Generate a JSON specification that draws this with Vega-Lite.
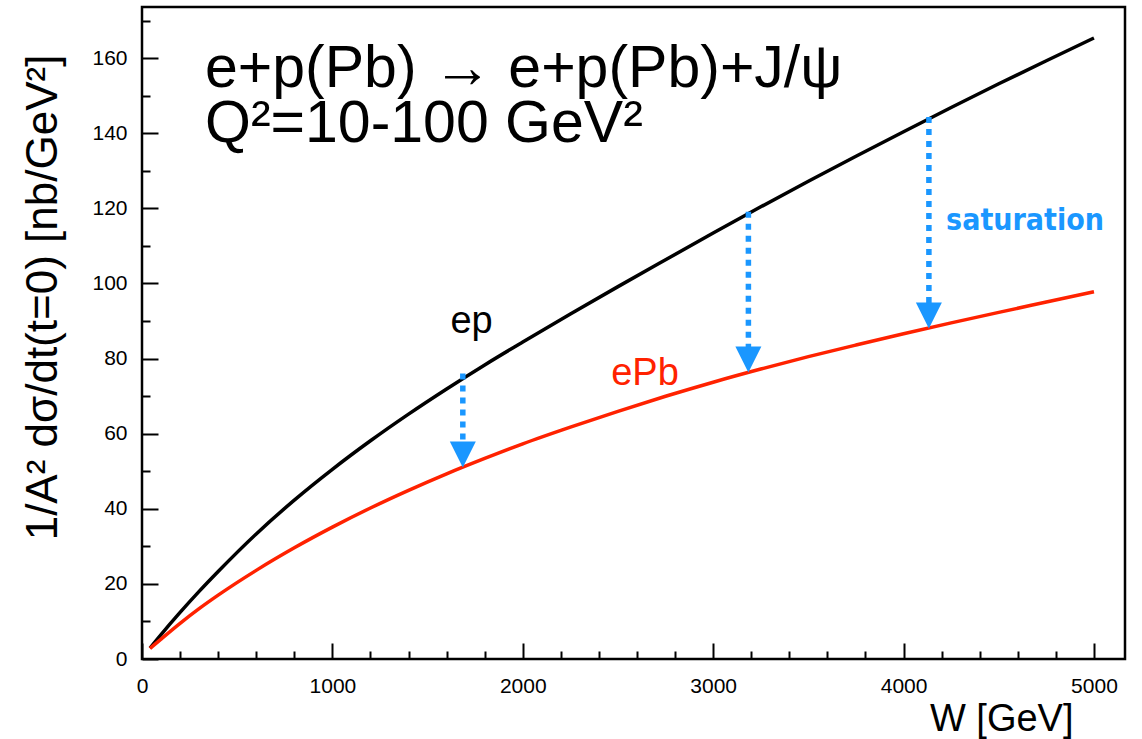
{
  "$schema": "https://vega.github.io/schema/vega-lite/v6.json",
  "width": 983,
  "height": 652,
  "autosize": "none",
  "padding": {"left": 142, "top": 7, "right": 17, "bottom": 80},
  "background": "white",
  "datasets": {
    "curves": [
      {"W": 42, "v": 2.9, "series": "ep"},
      {"W": 100, "v": 6.5, "series": "ep"},
      {"W": 200, "v": 12.4, "series": "ep"},
      {"W": 300, "v": 18.0, "series": "ep"},
      {"W": 400, "v": 23.3, "series": "ep"},
      {"W": 600, "v": 33.3, "series": "ep"},
      {"W": 800, "v": 42.3, "series": "ep"},
      {"W": 1000, "v": 50.5, "series": "ep"},
      {"W": 1200, "v": 58.1, "series": "ep"},
      {"W": 1400, "v": 65.2, "series": "ep"},
      {"W": 1600, "v": 71.9, "series": "ep"},
      {"W": 1800, "v": 78.3, "series": "ep"},
      {"W": 2000, "v": 84.4, "series": "ep"},
      {"W": 2250, "v": 91.85, "series": "ep"},
      {"W": 2500, "v": 99.15, "series": "ep"},
      {"W": 2750, "v": 106.3, "series": "ep"},
      {"W": 3000, "v": 113.4, "series": "ep"},
      {"W": 3250, "v": 120.4, "series": "ep"},
      {"W": 3500, "v": 127.2, "series": "ep"},
      {"W": 3750, "v": 133.85, "series": "ep"},
      {"W": 4000, "v": 140.4, "series": "ep"},
      {"W": 4250, "v": 146.85, "series": "ep"},
      {"W": 4500, "v": 153.15, "series": "ep"},
      {"W": 4750, "v": 159.3, "series": "ep"},
      {"W": 5000, "v": 165.35, "series": "ep"},
      {"W": 42, "v": 2.8, "series": "ePb"},
      {"W": 100, "v": 5.3, "series": "ePb"},
      {"W": 200, "v": 9.5, "series": "ePb"},
      {"W": 300, "v": 13.4, "series": "ePb"},
      {"W": 400, "v": 17.0, "series": "ePb"},
      {"W": 600, "v": 23.6, "series": "ePb"},
      {"W": 800, "v": 29.6, "series": "ePb"},
      {"W": 1000, "v": 35.1, "series": "ePb"},
      {"W": 1200, "v": 40.2, "series": "ePb"},
      {"W": 1400, "v": 44.9, "series": "ePb"},
      {"W": 1600, "v": 49.3, "series": "ePb"},
      {"W": 1800, "v": 53.4, "series": "ePb"},
      {"W": 2000, "v": 57.3, "series": "ePb"},
      {"W": 2250, "v": 61.75, "series": "ePb"},
      {"W": 2500, "v": 65.95, "series": "ePb"},
      {"W": 2750, "v": 69.95, "series": "ePb"},
      {"W": 3000, "v": 73.7, "series": "ePb"},
      {"W": 3250, "v": 77.2, "series": "ePb"},
      {"W": 3500, "v": 80.5, "series": "ePb"},
      {"W": 3750, "v": 83.6, "series": "ePb"},
      {"W": 4000, "v": 86.6, "series": "ePb"},
      {"W": 4250, "v": 89.5, "series": "ePb"},
      {"W": 4500, "v": 92.3, "series": "ePb"},
      {"W": 4750, "v": 95.05, "series": "ePb"},
      {"W": 5000, "v": 97.8, "series": "ePb"}
    ],
    "arrows": [
      {"W": 1685, "top": 76.0, "bottom": 51.0},
      {"W": 3185, "top": 119.1, "bottom": 76.3},
      {"W": 4133, "top": 144.3, "bottom": 88.0}
    ],
    "headers": [
      {"W": 331, "v": 152.4, "text": ["e+p(Pb) → e+p(Pb)+J/ψ", "Q²=10-100 GeV²"]}
    ],
    "labels": [
      {"W": 1731, "v": 86.7, "text": "ep", "series": "ep"},
      {"W": 2642, "v": 73.0, "text": "ePb", "series": "ePb"}
    ],
    "note": [
      {"W": 4638, "v": 114.2, "text": "saturation"}
    ]
  },
  "layer": [
    {
      "data": {"name": "curves"},
      "mark": {"type": "line", "strokeWidth": 3.5, "interpolate": "monotone"},
      "encoding": {
        "x": {"field": "W", "type": "quantitative", "title": "W [GeV]", "scale": {"domain": [0, 5163], "nice": false, "zero": false}},
        "y": {"field": "v", "type": "quantitative", "title": "1/A² dσ/dt(t=0) [nb/GeV²]", "scale": {"domain": [0, 173.6], "nice": false, "zero": false}},
        "color": {"field": "series", "type": "nominal", "legend": null, "scale": {"domain": ["ep", "ePb"], "range": ["#000000", "#ff2200"]}},
        "detail": {"field": "series"}
      }
    },
    {
      "data": {"name": "arrows"},
      "mark": {"type": "rule", "color": "#1a97ff", "strokeWidth": 5.5, "strokeDash": [6, 6], "strokeCap": "butt", "y2Offset": -24},
      "encoding": {
        "x": {"field": "W", "type": "quantitative", "title": "W [GeV]"},
        "y": {"field": "top", "type": "quantitative", "title": "1/A² dσ/dt(t=0) [nb/GeV²]"},
        "y2": {"field": "bottom"}
      }
    },
    {
      "data": {"name": "arrows"},
      "mark": {"type": "point", "shape": "M-1,-1L1,-1L0,1Z", "filled": true, "color": "#1a97ff", "opacity": 1, "size": 676, "yOffset": -13, "strokeWidth": 0},
      "encoding": {
        "x": {"field": "W", "type": "quantitative", "title": "W [GeV]"},
        "y": {"field": "bottom", "type": "quantitative", "title": "1/A² dσ/dt(t=0) [nb/GeV²]"}
      }
    },
    {
      "data": {"name": "headers"},
      "mark": {"type": "text", "align": "left", "baseline": "alphabetic", "font": "Liberation Sans", "fontSize": 59, "lineHeight": 55, "color": "#000000"},
      "encoding": {
        "x": {"field": "W", "type": "quantitative", "title": "W [GeV]"},
        "y": {"field": "v", "type": "quantitative", "title": "1/A² dσ/dt(t=0) [nb/GeV²]"},
        "text": {"field": "text"}
      }
    },
    {
      "data": {"name": "labels"},
      "mark": {"type": "text", "align": "center", "baseline": "alphabetic", "font": "Liberation Sans", "fontSize": 38},
      "encoding": {
        "x": {"field": "W", "type": "quantitative", "title": "W [GeV]"},
        "y": {"field": "v", "type": "quantitative", "title": "1/A² dσ/dt(t=0) [nb/GeV²]"},
        "text": {"field": "text"},
        "color": {"field": "series", "type": "nominal", "legend": null}
      }
    },
    {
      "data": {"name": "note"},
      "mark": {"type": "text", "align": "center", "baseline": "alphabetic", "font": "DejaVu Sans Condensed", "fontWeight": "bold", "fontSize": 30, "color": "#1a97ff"},
      "encoding": {
        "x": {"field": "W", "type": "quantitative", "title": "W [GeV]"},
        "y": {"field": "v", "type": "quantitative", "title": "1/A² dσ/dt(t=0) [nb/GeV²]"},
        "text": {"field": "text"}
      }
    }
  ],
  "config": {
    "view": {"stroke": "#000000", "strokeWidth": 2.5},
    "axis": {
      "domain": false,
      "grid": false,
      "labelFont": "Liberation Sans",
      "labelFontSize": 21,
      "labelColor": "#000000",
      "tickColor": "#000000",
      "tickWidth": 2,
      "titleFont": "Liberation Sans",
      "titleFontSize": 38,
      "titleFontWeight": "normal",
      "titleColor": "#000000",
      "labelOverlap": false,
      "labelFlush": false
    },
    "axisX": {
      "values": [0, 200, 400, 600, 800, 1000, 1200, 1400, 1600, 1800, 2000, 2200, 2400, 2600, 2800, 3000, 3200, 3400, 3600, 3800, 4000, 4200, 4400, 4600, 4800, 5000],
      "format": "d",
      "labelExpr": "datum.value % 1000 === 0 ? datum.label : ''",
      "tickSize": {"condition": {"test": "datum.value % 1000 === 0", "value": -16}, "value": -8},
      "labelPadding": 32,
      "titleAlign": "right",
      "titleAnchor": null,
      "titleX": 931,
      "titleY": 71,
      "titleBaseline": "alphabetic"
    },
    "axisY": {
      "values": [0, 5, 10, 15, 20, 25, 30, 35, 40, 45, 50, 55, 60, 65, 70, 75, 80, 85, 90, 95, 100, 105, 110, 115, 120, 125, 130, 135, 140, 145, 150, 155, 160, 165, 170],
      "format": "d",
      "labelExpr": "datum.value % 20 === 0 ? datum.label : ''",
      "tickSize": {"condition": {"test": "datum.value % 20 === 0", "value": -16}, "value": -8},
      "labelPadding": 31,
      "titleAngle": -90,
      "titleAlign": "center",
      "titleFontSize": 44,
      "titleX": -86,
      "titleY": 290,
      "titleBaseline": "alphabetic"
    }
  }
}
